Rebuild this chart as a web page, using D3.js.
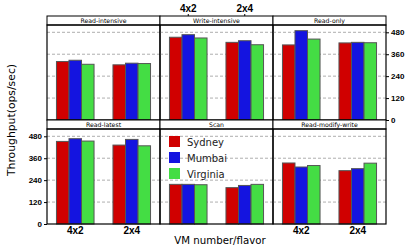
<!DOCTYPE html>
<html>
<head>
<meta charset="utf-8">
<script src="https://cdn.jsdelivr.net/npm/d3@7"></script>
<style>
  body { margin: 0; background: #fff; }
  svg { display: block; }
</style>
</head>
<body>
<svg id="chart" width="415" height="248"></svg>
<script>
// workloads, in facet order (row by row)
var workloads = ["Read-intensive", "Write-intensive", "Read-only",
                 "Read-latest", "Scan", "Read-modify-write"];
var flavors = ["4x2", "2x4"];
var regions = ["Sydney", "Mumbai", "Virginia"];
var colors = ["#d00000", "#1414e0", "#44dd44"];
var yTicks = [0, 120, 240, 360, 480];

// throughput (ops/sec), per workload: [4x2: Sydney, Mumbai, Virginia], [2x4: ...]
var sydney   = [[320, 302], [453, 425], [411, 422], [452, 432], [217, 199], [334, 292]];
var mumbai   = [[327, 311], [467, 434], [489, 425], [467, 463], [217, 211], [312, 303]];
var virginia = [[305, 309], [449, 412], [443, 423], [454, 428], [215, 217], [320, 333]];

var svg = d3.select("#chart");

var margins = { left: 47, top: 16 };
var panelW = 113, stripH = 9, bodyH = 95;
var rowH = stripH + bodyH;

var x = d3.scaleBand().domain(flavors).range([0, panelW])
    .paddingInner(0.335).paddingOuter(0.1675);
var xr = d3.scaleBand().domain(regions).range([0, x.bandwidth()]);
var y = d3.scaleLinear().domain([0, 520]).range([bodyH, 0]);

var series = [sydney, mumbai, virginia];

workloads.forEach(function (w, i) {
    var col = i % 3, row = Math.floor(i / 3);
    var g = svg.append("g")
        .attr("transform", "translate(" + (margins.left + col * panelW) + "," + (margins.top + row * rowH) + ")");

    // strip
    g.append("rect")
        .attr("width", panelW).attr("height", stripH)
        .attr("fill", "#fff").attr("stroke", "#000").attr("stroke-width", 1);
    g.append("text")
        .attr("x", panelW / 2).attr("y", stripH / 2 + 2.2)
        .attr("text-anchor", "middle")
        .style("font-family", "DejaVu Sans").style("font-size", "6.2px")
        .text(w);

    var body = g.append("g").attr("transform", "translate(0," + stripH + ")");

    // dashed grid
    body.selectAll("line.grid").data(yTicks.slice(1)).enter().append("line")
        .attr("class", "grid")
        .attr("x1", 0).attr("x2", panelW)
        .attr("y1", d => y(d)).attr("y2", d => y(d))
        .attr("stroke", "#999").attr("stroke-width", 0.8)
        .attr("stroke-dasharray", "3,2");

    // bars
    var rows = [];
    flavors.forEach(function (f, fi) {
        regions.forEach(function (r, ri) {
            rows.push({ flavor: f, region: r, ri: ri, value: series[ri][i][fi] });
        });
    });
    body.selectAll("rect.bar").data(rows).enter().append("rect")
        .attr("class", "bar")
        .attr("x", d => x(d.flavor) + xr(d.region))
        .attr("width", xr.bandwidth())
        .attr("y", d => y(d.value))
        .attr("height", d => y(0) - y(d.value))
        .attr("fill", d => colors[d.ri])
        .attr("stroke", "#555").attr("stroke-width", 1);

    // frame
    body.append("rect")
        .attr("width", panelW).attr("height", bodyH)
        .attr("fill", "none").attr("stroke", "#000").attr("stroke-width", 1.2);

    // y axes: right on top row, left on bottom row
    if (row == 0 && col == 2) {
        var ax = body.append("g").attr("transform", "translate(" + panelW + ",0)")
            .call(d3.axisRight(y).tickValues(yTicks).tickSize(3).tickPadding(2));
        styleAxis(ax, "8px");
    }
    if (row == 1 && col == 0) {
        var ax = body.append("g")
            .call(d3.axisLeft(y).tickValues(yTicks).tickSize(3).tickPadding(2));
        styleAxis(ax, "8px");
    }
    // x axes: top of the middle top panel, bottom of the outer bottom panels
    if (row == 0 && col == 1) {
        var ax = g.append("g")
            .call(d3.axisTop(x).tickSize(2).tickPadding(2));
        styleAxis(ax, "10px");
    }
    if (row == 1 && col != 1) {
        var ax = body.append("g").attr("transform", "translate(0," + bodyH + ")")
            .call(d3.axisBottom(x).tickSize(0).tickPadding(3));
        styleAxis(ax, "10px");
    }

    // legend in the Scan panel
    if (w == "Scan") {
        var lg = body.selectAll("g.legend").data(regions).enter().append("g")
            .attr("class", "legend")
            .attr("transform", (d, k) => "translate(9," + (7 + k * 16) + ")");
        lg.append("rect").attr("width", 11).attr("height", 11)
            .attr("fill", (d, k) => colors[k]);
        lg.append("text").attr("x", 18).attr("y", 9.5)
            .style("font-family", "DejaVu Sans").style("font-size", "10px")
            .attr("fill", "#222")
            .text(d => d);
    }
});

function styleAxis(ax, size) {
    ax.select(".domain").remove();
    ax.selectAll("text")
        .style("font-family", "Liberation Sans").style("font-size", size)
        .style("font-weight", "700").attr("fill", "#000");
    ax.selectAll("line").attr("stroke", "#000");
}

// axis titles
svg.append("text")
    .attr("transform", "translate(15,120) rotate(-90)")
    .attr("text-anchor", "middle")
    .style("font-family", "DejaVu Sans").style("font-size", "10.8px")
    .text("Throughput(ops/sec)");

svg.append("text")
    .attr("x", 220).attr("y", 244)
    .attr("text-anchor", "middle")
    .style("font-family", "DejaVu Sans").style("font-size", "10.2px")
    .text("VM number/flavor");
</script>
</body>
</html>
